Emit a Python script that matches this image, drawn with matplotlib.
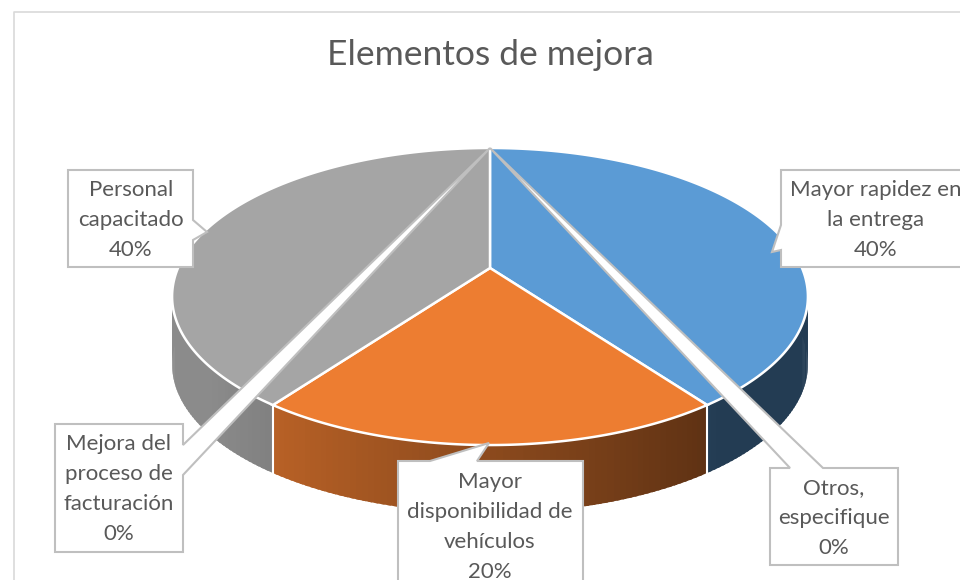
# 3D pie chart "Elementos de mejora"
import numpy as np
import matplotlib.pyplot as plt
from matplotlib.patches import Polygon

categories = ['Mayor rapidez en la entrega', 'Mayor disponibilidad de vehículos',
              'Personal capacitado', 'Mejora del proceso de facturación',
              'Otros, especifique']
values = [40, 20, 40, 0, 0]
colors = ['#5B9BD5', '#ED7D31', '#A5A5A5', '#FFC000', '#4472C4']
label_text = ['Mayor rapidez en\nla entrega', 'Mayor\ndisponibilidad de\nvehículos',
              'Personal\ncapacitado', 'Mejora del\nproceso de\nfacturación',
              'Otros,\nespecifique']

plt.rcParams['font.family'] = ['Lato', 'DejaVu Sans']
TXT = '#595959'

fig = plt.figure(figsize=(9.6, 5.8), dpi=100)
ax = fig.add_axes([0, 0, 1, 1])
ax.set_xlim(0, 960)
ax.set_ylim(580, 0)
ax.axis('off')

# perspective ellipse (angles clockwise from the back/top point)
cx, cy, A, K, Q, H = 490, 268, 312, 0.192, 91.6, 68


def proj(deg, drop=0.0):
    t = np.radians(deg)
    z = np.cos(t)
    d = 1 + K * z
    return cx + A * np.sin(t) / d, (cy - Q * z) / d + drop


total = sum(values)
ends = np.cumsum(values) / total * 360
starts = ends - np.array(values) / total * 360


def rgb(c):
    c = c.lstrip('#')
    return np.array([int(c[i:i + 2], 16) for i in (0, 2, 4)]) / 255


# side walls, drawn back to front (small overlapping strips for the shading)
quads = []
for s, e, c, v in zip(starts, ends, colors, values):
    if v == 0:
        continue
    for t0 in np.arange(s, e, 1.0):
        t1 = min(t0 + 1.6, e)
        mid = t0 + 0.5
        if not (75 < mid < 285):
            continue
        shade = np.clip(0.59 - 0.323 * np.sin(np.radians(mid)), 0.39, 0.84)
        x0, y0 = proj(t0)
        x1, y1 = proj(t1)
        quads.append((np.cos(np.radians(mid)),
                      [(x0, y0), (x1, y1), (x1, y1 + H), (x0, y0 + H)], rgb(c) * shade))
for _, pts, col in sorted(quads, key=lambda q: -q[0]):
    ax.add_patch(Polygon(pts, closed=True, fc=col, ec='none', lw=0))

# white seams between the walls
for e in ends[:2]:
    x, y = proj(e)
    ax.plot([x, x], [y, y + H], color='white', lw=1.5)

# top faces
for s, e, c, v in zip(starts, ends, colors, values):
    if v == 0:
        continue
    th = np.linspace(s, e, 200)
    xs, ys = proj(th)
    pts = [(cx, cy)] + list(zip(xs, ys))
    ax.add_patch(Polygon(pts, closed=True, fc=c, ec='white', lw=1.8, joinstyle='miter'))


def callout(box, side, b0, b1, tip):
    x0, y0, x1, y1 = box
    if side == 'top':
        pts = [(x0, y0), (b0, y0), tip, (b1, y0), (x1, y0), (x1, y1), (x0, y1)]
    elif side == 'right':
        pts = [(x0, y0), (x1, y0), (x1, b0), tip, (x1, b1), (x1, y1), (x0, y1)]
    else:
        pts = [(x0, y0), (x1, y0), (x1, y1), (x0, y1), (x0, b1), tip, (x0, b0)]
    ax.add_patch(Polygon(pts, closed=True, fc='white', ec='#BFBFBF', lw=1.5, zorder=5))


top_pt = proj(ends[-1])
boxes = [
    ((781, 170, 980, 267), 'left', 225, 250, (772, 252)),
    ((398, 461, 583, 600), 'top', 430, 477, (489, 443)),
    ((68, 170, 193, 267), 'right', 220, 240, (207, 232)),
    ((55, 424, 183, 552), 'right', 445, 475, top_pt),
    ((770, 468, 898, 565), 'top', 790, 823, top_pt),
]
text_pos = [(876, 220), (490, 527), (131, 220), (119, 489), (834, 518)]

for (box, side, b0, b1, tip), lab, v, (tx, ty) in zip(boxes, label_text, values, text_pos):
    callout(box, side, b0, b1, tip)
    ax.text(tx, ty, f'{lab}\n{v / total:.0%}', ha='center', va='center',
            fontsize=16, color=TXT, linespacing=1.62, zorder=6)

# chart border
ax.plot([14, 14, 970], [600, 12, 12], color='#D9D9D9', lw=1.2)

ax.text(490, 55, 'Elementos de mejora', ha='center', va='center',
        fontsize=25.5, color=TXT)

fig.savefig('out.png', dpi=100)
